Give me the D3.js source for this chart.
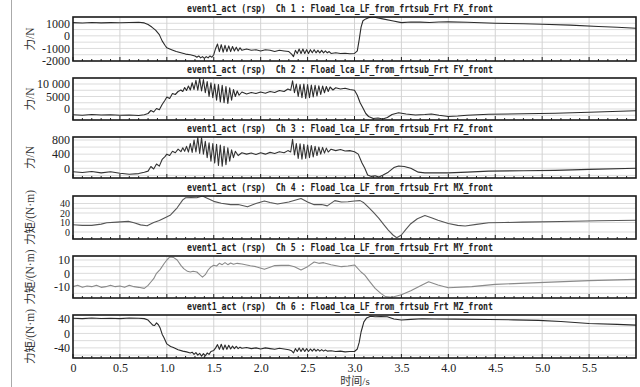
<!DOCTYPE html>
<html lang="zh">
<head>
<meta charset="UTF-8">
<title>event1_act (rsp)</title>
<script src="https://d3js.org/d3.v7.min.js"></script>
<style>
  body { margin: 0; background: #fff; }
  svg { display: block; }
  .tick text { font-family: "Liberation Serif", "DejaVu Serif", serif; font-size: 12px; fill: #222; }
  .tight .tick text { font-size: 10px; }
  .title { font-family: "DejaVu Sans Mono", "Liberation Mono", monospace; font-size: 10px; font-weight: bold; fill: #222; white-space: pre; }
  .ylab { font-family: "Liberation Serif", "Noto Sans CJK SC", serif; font-size: 11.5px; fill: #333; }
  .xlab { font-family: "Liberation Serif", "Noto Sans CJK SC", serif; font-size: 11px; fill: #333; }
</style>
</head>
<body>
<svg width="640" height="387"></svg>
<script>
// time axis (s)
const timeTicks = [0, 0.5, 1.0, 1.5, 2.0, 2.5, 3.0, 3.5, 4.0, 4.5, 5.0, 5.5];
const channels = ["FX", "FY", "FZ", "MX", "MY", "MZ"];
const yTitles = ["力/N", "力/N", "力/N", "力矩/(N·m)", "力矩/(N·m)", "力矩/(N·m)"];

const ticksFX = [-2000, -1000, 0, 1000];
const ticksFY = [0, 5000, 10000];
const ticksFZ = [0, 400, 800];
const ticksMX = [0, 10, 20, 40];
const ticksMY = [-10, 0, 10];
const ticksMZ = [-40, 0, 40];

// [time s, value]
const seriesFX = [[0,1050],[0.1,1020],[0.2,1060],[0.3,1030],[0.4,1050],[0.5,1040],[0.6,1060],[0.7,1080],[0.76,1030],[0.8,900],[0.84,700],[0.88,450],[0.92,100],[0.95,-400],[0.98,-750],[1.0,-950],[1.05,-1100],[1.1,-1250],[1.15,-1350],[1.2,-1450],[1.25,-1500],[1.3,-1600],
  [1.32,-1700],[1.34,-1600],[1.36,-1750],[1.38,-1650],[1.4,-1800],[1.42,-1650],[1.44,-1750],[1.46,-1600],[1.48,-1700],[1.5,-1500],
  [1.52,-1000],[1.54,-650],[1.56,-1250],[1.58,-700],[1.6,-1300],[1.62,-750],[1.64,-1250],[1.66,-800],[1.68,-1250],[1.7,-850],[1.72,-1200],[1.74,-900],[1.76,-1200],[1.78,-950],[1.8,-1150],
  [1.85,-1050],[1.9,-1150],[1.95,-1100],[2.0,-1200],[2.05,-1100],[2.1,-1150],[2.15,-1250],[2.2,-1150],[2.25,-1200],[2.3,-1250],
  [2.33,-1450],[2.35,-1650],[2.37,-1150],[2.39,-1400],[2.41,-1050],[2.43,-1400],[2.45,-1050],[2.47,-1400],[2.49,-1100],[2.51,-1400],[2.53,-1100],[2.55,-1350],[2.57,-1100],[2.59,-1350],[2.61,-1150],[2.63,-1350],[2.65,-1150],[2.67,-1350],[2.69,-1200],[2.71,-1350],[2.73,-1250],[2.75,-1400],
  [2.8,-1350],[2.85,-1400],[2.9,-1380],[2.95,-1420],[3.0,-1400],[3.03,-1200],[3.05,-300],[3.07,700],[3.09,1200],[3.12,1350],[3.15,1450],[3.2,1500],[3.25,1420],[3.3,1350],[3.4,1200],[3.5,1050],[3.6,1100],[3.7,1090],[3.8,1060],[3.9,1100],[4.0,1110],[4.2,1080],[4.5,1000],[4.8,960],[5.0,920],[5.3,850],[5.6,740],[5.8,680],[6.0,600]];

const seriesFY = [[0,-2300],[0.1,-2500],[0.2,-2200],[0.3,-2400],[0.4,-2300],[0.5,-2500],[0.6,-2400],[0.7,-2600],[0.76,-2300],[0.8,-1800],[0.83,-600],[0.86,-1200],[0.89,200],[0.92,-300],[0.95,1800],[0.98,3500],[1.0,4800],[1.03,4200],[1.06,6200],[1.09,5800],[1.12,7000],[1.15,7600],[1.17,7000],[1.19,8600],[1.21,7400],[1.23,9200],[1.25,7600],[1.27,10500],[1.29,7800],[1.31,11500],[1.33,7500],[1.35,12200],[1.37,7200],[1.39,11800],[1.41,6500],[1.43,11000],[1.45,5000],[1.47,10500],[1.49,4500],[1.51,10000],[1.53,3500],[1.55,9800],[1.57,2800],[1.59,9500],[1.61,2500],[1.63,9000],[1.65,2200],[1.67,8500],[1.69,3500],[1.71,7800],[1.73,5000],[1.75,7200],[1.77,5500],[1.8,6800],
  [1.85,6000],[1.9,6600],[1.95,6200],[2.0,6800],[2.05,6300],[2.1,7000],[2.15,6600],[2.2,7400],[2.25,7000],[2.29,8000],[2.32,7500],[2.34,11300],[2.36,6500],[2.38,10000],[2.4,5000],[2.42,9800],[2.44,4500],[2.46,10000],[2.48,4200],[2.5,9800],[2.52,4500],[2.54,9600],[2.56,4800],[2.58,9500],[2.6,5200],[2.62,9300],[2.64,5800],[2.66,9200],[2.68,6500],[2.7,9000],[2.72,7000],[2.74,8800],[2.77,7600],[2.8,8500],[2.85,8000],[2.9,8300],[2.95,7800],[3.0,7500],
  [3.03,5500],[3.06,2500],[3.09,400],[3.12,-1800],[3.15,-3000],[3.2,-3800],[3.25,-3600],[3.3,-4000],[3.35,-3400],[3.4,-2200],[3.47,-1500],[3.55,-2000],[3.65,-2400],[3.75,-2200],[3.82,-2000],[3.9,-2500],[4.0,-3000],[4.1,-2800],[4.2,-2500],[4.43,-2100],[4.8,-1900],[5.14,-1700],[5.5,-1300],[6.0,-700]];

const seriesFZ = [[0,-100],[0.1,-120],[0.2,-90],[0.3,-130],[0.4,-100],[0.5,-140],[0.6,-170],[0.7,-150],[0.76,-110],[0.8,-80],[0.83,50],[0.86,-20],[0.89,120],[0.92,60],[0.95,250],[0.98,330],[1.0,400],[1.03,360],[1.06,480],[1.09,440],[1.12,540],[1.15,470],[1.17,580],[1.19,480],[1.21,620],[1.23,460],[1.25,700],[1.27,450],[1.29,800],[1.31,460],[1.33,870],[1.35,420],[1.37,860],[1.39,400],[1.41,760],[1.43,300],[1.45,720],[1.47,200],[1.49,700],[1.51,150],[1.53,680],[1.55,80],[1.57,660],[1.59,60],[1.61,620],[1.63,100],[1.65,580],[1.67,200],[1.69,520],[1.71,300],[1.73,480],[1.76,360],[1.8,440],
  [1.85,400],[1.9,430],[1.95,390],[2.0,440],[2.05,400],[2.1,450],[2.15,420],[2.2,470],[2.25,440],[2.29,500],[2.32,460],[2.34,820],[2.36,380],[2.38,700],[2.4,280],[2.42,690],[2.44,260],[2.46,680],[2.48,280],[2.5,660],[2.52,300],[2.54,640],[2.56,320],[2.58,620],[2.6,360],[2.62,600],[2.64,400],[2.66,590],[2.68,430],[2.7,570],[2.72,460],[2.75,540],[2.8,500],[2.85,530],[2.9,490],[2.95,500],[3.0,470],
  [3.04,400],[3.08,150],[3.11,0],[3.14,-190],[3.18,-230],[3.22,-210],[3.26,-250],[3.3,-200],[3.36,-110],[3.42,20],[3.47,65],[3.53,50],[3.6,0],[3.68,-110],[3.75,-130],[3.82,-130],[4.0,-130],[4.2,-110],[4.43,-80],[4.8,-70],[5.14,-60],[5.5,-30],[6.0,0]];

const seriesMX = [[0,7.7],[0.1,7],[0.2,7],[0.3,8.3],[0.36,9.7],[0.47,10.4],[0.59,11.2],[0.65,9.7],[0.72,7.5],[0.79,6.5],[0.86,10],[0.92,12],[0.97,14.4],[1.04,17.9],[1.11,31],[1.17,50],[1.2,56],[1.26,57],[1.32,56],[1.38,61],[1.43,55],[1.5,46],[1.58,40.7],[1.68,37.6],[1.76,38],[1.86,33],[1.95,40],[2.04,47],[2.1,43],[2.18,39],[2.3,44],[2.43,54],[2.5,44],[2.57,37.6],[2.65,38],[2.71,35],[2.79,48],[2.86,44],[2.93,45],[3.0,47],[3.06,48],[3.1,42],[3.15,32],[3.2,22],[3.26,14.4],[3.31,8],[3.36,2],[3.41,-3],[3.45,-5.7],[3.5,-3],[3.55,3],[3.6,8.7],[3.67,14],[3.75,17.4],[3.82,15],[3.89,12.4],[4.0,9],[4.1,7],[4.18,6.3],[4.3,8],[4.43,9.7],[4.6,10],[4.79,10.4],[5.2,11],[5.6,11.8],[6.0,12.4]];

const seriesMY = [[0,-10],[0.05,-9],[0.1,-10.5],[0.15,-9.5],[0.2,-10],[0.25,-9],[0.3,-10.5],[0.35,-10],[0.4,-9],[0.45,-10],[0.5,-9.5],[0.55,-10.5],[0.6,-9],[0.65,-10],[0.7,-10.5],[0.76,-11.3],[0.8,-9],[0.83,-6.5],[0.86,-4],[0.89,0],[0.93,3],[0.97,7.2],[1.0,10],[1.03,12.2],[1.07,12],[1.11,10],[1.15,6],[1.18,3.5],[1.22,1.5],[1.25,1],[1.28,1.5],[1.32,1],[1.35,-1],[1.38,-2.8],[1.41,-1],[1.44,2.5],[1.47,4.8],[1.5,6],[1.53,5.5],[1.56,7.5],[1.59,6.5],[1.62,8],[1.65,6.5],[1.68,7.8],[1.71,6.8],[1.75,7.5],[1.8,7],[1.89,5.7],[1.95,5],[2.04,3],[2.1,4.5],[2.15,5.8],[2.22,6],[2.3,6],[2.36,5],[2.43,2.5],[2.5,5],[2.57,8.5],[2.62,7.5],[2.67,8],[2.75,6.5],[2.86,5],[2.93,5.5],[3.0,6.3],[3.07,1],[3.11,-1.3],[3.16,-6],[3.22,-11.3],[3.28,-15],[3.33,-17.5],[3.4,-18],[3.45,-17],[3.5,-16],[3.6,-13],[3.72,-8.8],[3.79,-6.3],[3.89,-8.8],[4.0,-10.8],[4.25,-10],[4.5,-8.3],[4.96,-7],[5.5,-5.5],[6.0,-4.5]];

const seriesMZ = [[0,42],[0.1,41],[0.2,42.5],[0.3,41.5],[0.4,42],[0.5,41],[0.6,42.5],[0.7,42],[0.76,41],[0.8,37],[0.82,31],[0.85,23],[0.87,22],[0.89,29],[0.91,24],[0.93,14],[0.95,-2],[0.97,-12],[1.0,-29],[1.04,-36],[1.07,-39],[1.12,-45],[1.17,-49],[1.21,-51],[1.25,-54],[1.27,-52],[1.29,-58],[1.31,-53],[1.33,-60],[1.35,-55],[1.37,-63],[1.39,-56],[1.41,-62],[1.43,-54],[1.45,-58],[1.47,-50],[1.5,-47],
  [1.52,-40],[1.54,-31],[1.56,-44],[1.58,-30],[1.6,-45],[1.62,-32],[1.64,-44],[1.66,-33],[1.68,-43],[1.7,-35],[1.72,-42],[1.74,-36],[1.76,-42],[1.78,-38],[1.8,-41],[1.85,-39],[1.9,-42],[1.95,-40],[2.0,-43],[2.05,-40],[2.1,-42],[2.15,-44],[2.2,-41],[2.25,-43],[2.3,-45],[2.33,-48],
  [2.35,-54],[2.37,-42],[2.39,-50],[2.41,-40],[2.43,-50],[2.45,-41],[2.47,-50],[2.49,-42],[2.51,-50],[2.53,-43],[2.55,-49],[2.57,-43],[2.59,-49],[2.61,-44],[2.63,-49],[2.65,-45],[2.67,-49],[2.69,-46],[2.71,-49],[2.75,-48],[2.8,-50],[2.85,-49],[2.9,-51],[2.95,-50],[3.0,-50],
  [3.03,-43],[3.05,-25],[3.07,4],[3.1,32],[3.13,43],[3.17,47.7],[3.22,46],[3.28,47],[3.35,46],[3.42,40],[3.5,37],[3.6,39],[3.72,40.6],[3.85,40],[4.07,39.5],[4.43,38.6],[4.7,37.5],[4.96,36],[5.2,33],[5.5,27.6],[5.8,25],[6.0,23]];

const fmtPlain = d => String(d);
const fmtSpace = d => d >= 10000 ? d3.format(",")(d).replace(",", " ") : String(d);

// per-panel settings; MX axis in the source is not evenly spaced, so it uses a piecewise scale
const panels = [
  { data: seriesFX, ticks: ticksFX, fmt: fmtPlain, domain: [-2000, 1500], grid: [-1500, -1000, -500, 0, 500, 1000], top: 17, h: 44, color: "#2b2b2b" },
  { data: seriesFY, ticks: ticksFY, fmt: fmtSpace, domain: [-4400, 12400], grid: [-2500, 0, 2500, 5000, 7500, 10000], top: 78, h: 42, color: "#2b2b2b" },
  { data: seriesFZ, ticks: ticksFZ, fmt: fmtPlain, domain: [-275, 885], grid: [-200, 0, 200, 400, 600, 800], top: 137, h: 41, color: "#333" },
  { data: seriesMX, ticks: ticksMX, fmt: fmtPlain, domain: [-7, 0, 10, 20, 40, 61], frac: [0, 7/43, 16.5/43, 26/43, 35.5/43, 1], grid: [0, 10, 20, 30, 40], top: 196, h: 43, color: "#555", tight: true },
  { data: seriesMY, ticks: ticksMY, fmt: fmtPlain, domain: [-18.5, 13], grid: [-15, -10, -5, 0, 5, 10], top: 256, h: 42, color: "#8a8a8a" },
  { data: seriesMZ, ticks: ticksMZ, fmt: fmtPlain, domain: [-68, 51], grid: [-60, -40, -20, 0, 20, 40], top: 315, h: 43, color: "#2b2b2b" }
];

const svg = d3.select("svg");
const left = 73, right = 636;
const x = d3.scaleLinear().domain([0, 6]).range([left, right]);

// left frame line of the page
svg.append("line").attr("x1", 11.5).attr("x2", 11.5).attr("y1", 0).attr("y2", 387)
  .attr("stroke", "#aaa").attr("stroke-width", 1);

panels.forEach(function (p, i) {
  const bottom = p.top + p.h;
  const y = d3.scaleLinear().domain(p.domain)
    .range(p.frac ? p.frac.map(f => bottom - f * p.h) : [bottom, p.top]);

  const g = svg.append("g");

  g.append("clipPath").attr("id", "clip" + i)
    .append("rect").attr("x", left).attr("y", p.top).attr("width", right - left).attr("height", p.h);

  // grid
  g.selectAll(".vg").data(timeTicks.slice(1)).enter().append("line")
    .attr("x1", d => x(d)).attr("x2", d => x(d)).attr("y1", p.top).attr("y2", bottom)
    .attr("stroke", "#c8c8c8").attr("stroke-width", 0.8);
  g.selectAll(".hg").data(p.grid).enter().append("line")
    .attr("x1", left).attr("x2", right).attr("y1", d => y(d)).attr("y2", d => y(d))
    .attr("stroke", "#d2d2d2").attr("stroke-width", 0.8);

  // minor ticks on the bottom edge
  g.selectAll(".mt").data(d3.range(0, 60).map(k => k / 10)).enter().append("line")
    .attr("x1", d => x(d)).attr("x2", d => x(d))
    .attr("y1", bottom).attr("y2", d => bottom - (Math.round(d * 10) % 5 === 0 ? 4 : 2))
    .attr("stroke", "#222").attr("stroke-width", 1);

  const line = d3.line().x(d => x(d[0])).y(d => y(d[1]));
  g.append("path").datum(p.data)
    .attr("clip-path", "url(#clip" + i + ")")
    .attr("d", line)
    .attr("fill", "none")
    .attr("stroke", p.color)
    .attr("stroke-width", 1.1)
    .attr("stroke-linejoin", "round");

  g.append("rect").attr("x", left).attr("y", p.top).attr("width", right - left).attr("height", p.h)
    .attr("fill", "none").attr("stroke", "#1a1a1a").attr("stroke-width", 1.6);

  const ax = g.append("g").attr("transform", "translate(" + left + ",0)")
    .classed("tight", !!p.tight)
    .call(d3.axisLeft(y).tickValues(p.ticks).tickSize(0).tickPadding(3).tickFormat(p.fmt));
  ax.select(".domain").remove();

  g.append("text").attr("class", "title")
    .attr("x", 187).attr("y", p.top - 5)
    .attr("textLength", 306).attr("lengthAdjust", "spacingAndGlyphs")
    .text("event1_act (rsp)  Ch " + (i + 1) + " : Fload_lca_LF_from_frtsub_Frt " + channels[i] + "_front");

  g.append("text").attr("class", "ylab")
    .attr("transform", "translate(31," + (p.top + p.h / 2) + ") rotate(-90)")
    .attr("text-anchor", "middle").attr("dominant-baseline", "middle")
    .text(yTitles[i]);

  if (i === panels.length - 1) {
    const xa = g.append("g").attr("transform", "translate(0," + bottom + ")")
      .call(d3.axisBottom(x).tickValues(timeTicks).tickSize(0).tickPadding(5)
        .tickFormat(d => d === 0 ? "0" : d3.format(".1f")(d)));
    xa.select(".domain").remove();
  }
});

svg.append("text").attr("class", "xlab").attr("x", 355).attr("y", 385)
  .attr("text-anchor", "middle").text("时间/s");
</script>
</body>
</html>
